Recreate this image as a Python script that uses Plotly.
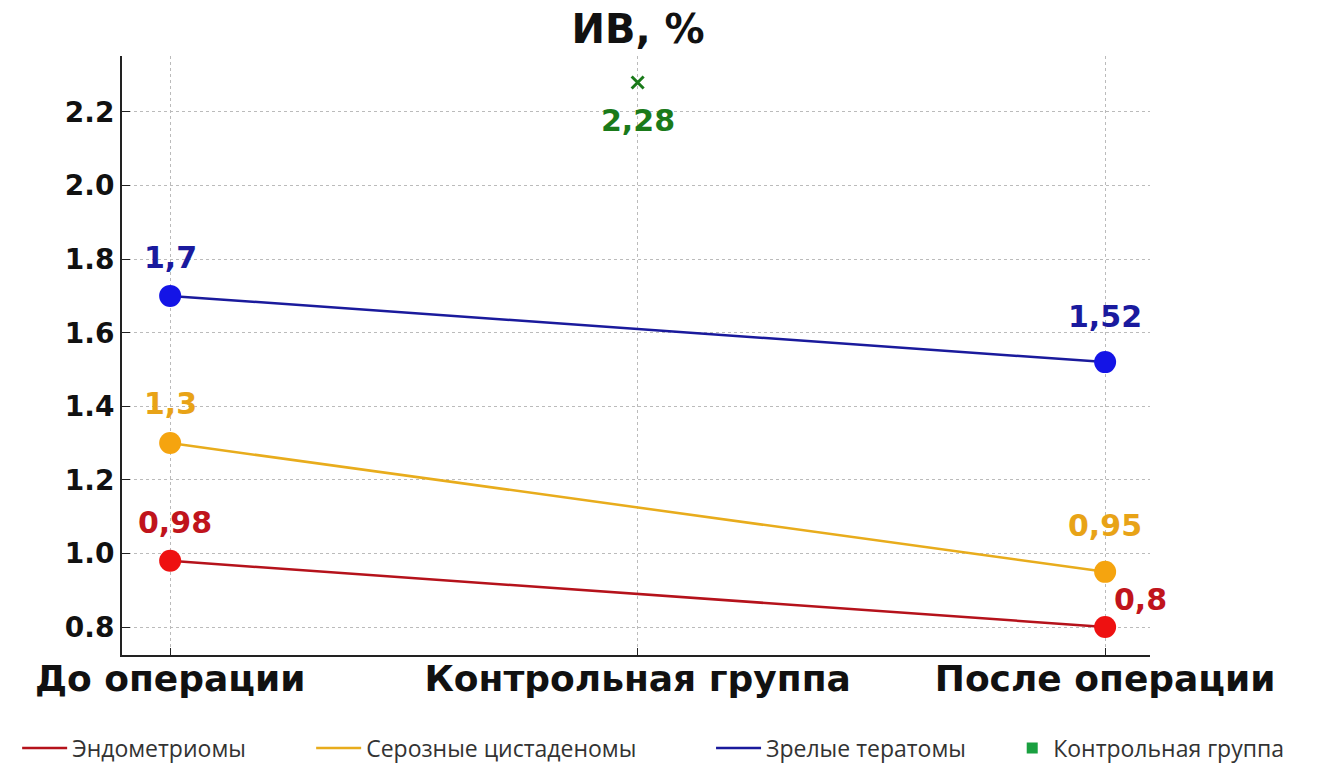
import plotly.graph_objects as go

# Categories along the x axis
categories = ["До операции", "Контрольная группа", "После операции"]

# Index values (%) before and after surgery for each group
endometrioma = [0.98, 0.80]
serous = [1.30, 0.95]
teratoma = [1.70, 1.52]
control = [2.28]

# name, values, line colour, marker colour, label colour, label offsets (dx, dy), legend id, legend x
series = [
    ("Эндометриомы", endometrioma, "#b5121b", "#ee1111", "#c0141c", [(5, 38), (35, 28)], "legend", -0.102),
    ("Серозные цистаденомы", serous, "#e8ac1c", "#f5a40f", "#e8a317", [(0, 40), (0, 46)], "legend2", 0.184),
    ("Зрелые тератомы", teratoma, "#1a1a9c", "#1414e6", "#1a1a9e", [(0, 38), (0, 46)], "legend3", 0.573),
]

x_pair = [0, 2]  # positions of "До операции" and "После операции"

fig = go.Figure()

legend_font = dict(family="Open Sans", size=23, color="#333333")
legend_y = -0.1553
legends = {}

for name, vals, line_col, mark_col, text_col, offsets, leg, leg_x in series:
    fig.add_trace(go.Scatter(
        x=x_pair, y=vals, mode="lines", name=name, legend=leg,
        line=dict(color=line_col, width=2.5),
    ))
    fig.add_trace(go.Scatter(
        x=x_pair, y=vals, mode="markers", showlegend=False,
        marker=dict(color=mark_col, size=22),
    ))
    legends[leg] = dict(
        orientation="h", x=leg_x, xanchor="left", y=legend_y, yanchor="middle",
        font=legend_font, itemwidth=45, bgcolor="rgba(0,0,0,0)",
    )
    for xv, yv, (dx, dy) in zip(x_pair, vals, offsets):
        fig.add_annotation(
            x=xv, y=yv, text=f"{yv:g}".replace(".", ","), showarrow=False,
            xshift=dx, yshift=dy,
            font=dict(family="DejaVu Sans", size=30, color=text_col, weight="bold"),
        )

# Control group point (x marker) and its legend swatch
fig.add_trace(go.Scatter(
    x=[1], y=control, mode="markers", showlegend=False,
    marker=dict(symbol="x-thin", size=12, color="#1a7a1a", line=dict(color="#1a7a1a", width=3)),
))
fig.add_trace(go.Scatter(
    x=[None], y=[None], mode="markers", name="Контрольная группа", legend="legend4",
    marker=dict(symbol="square", size=11, color="#1aa040"),
))
legends["legend4"] = dict(
    orientation="h", x=0.865, xanchor="left", y=legend_y, yanchor="middle",
    font=legend_font, itemwidth=32, bgcolor="rgba(0,0,0,0)",
)
fig.add_annotation(
    x=1, y=control[0], text=f"{control[0]:g}".replace(".", ","), showarrow=False,
    yshift=-38,
    font=dict(family="DejaVu Sans", size=30, color="#1a7a1a", weight="bold"),
)

fig.update_layout(
    width=1321, height=764,
    paper_bgcolor="white", plot_bgcolor="white",
    margin=dict(l=122, r=171, t=56, b=109, autoexpand=False),
    title=dict(
        text="ИВ, %", x=0.483, xanchor="center", y=0.962, yanchor="middle",
        font=dict(family="DejaVu Sans", size=40, color="#111111", weight="bold"),
    ),
    showlegend=True,
    **legends,
    xaxis=dict(
        range=[-0.103, 2.096], automargin=False,
        tickvals=[0, 1, 2], ticktext=categories, tickangle=0,
        tickfont=dict(family="DejaVu Sans", size=36, color="#111111", weight="bold"),
        ticklabelstandoff=-9,
        showline=True, linecolor="#222222", linewidth=2,
        ticks="inside", ticklen=7, tickcolor="#222222",
        showgrid=True, gridcolor="#bbbbbb", griddash="dot", gridwidth=1,
        zeroline=False,
    ),
    yaxis=dict(
        range=[0.724, 2.352], automargin=False,
        tickvals=[0.8, 1.0, 1.2, 1.4, 1.6, 1.8, 2.0, 2.2],
        ticktext=["0.8", "1.0", "1.2", "1.4", "1.6", "1.8", "2.0", "2.2"],
        tickfont=dict(family="DejaVu Sans", size=28, color="#111111", weight="bold"),
        showline=True, linecolor="#222222", linewidth=2,
        ticks="inside", ticklen=8, tickcolor="#222222",
        showgrid=True, gridcolor="#bbbbbb", griddash="dot", gridwidth=1,
        zeroline=False,
    ),
)

fig.write_html("out.html")
